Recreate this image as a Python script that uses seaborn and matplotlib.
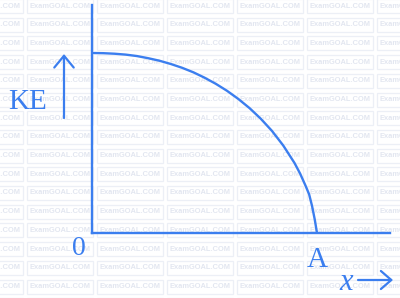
import matplotlib
matplotlib.use("Agg")
import matplotlib.pyplot as plt
from matplotlib.patches import Rectangle, FancyArrowPatch
import seaborn as sns
import pandas as pd

# Data: x as fraction of A, KE as fraction of its maximum
x_over_A = [0.0, 0.05, 0.1, 0.15, 0.2, 0.25, 0.3, 0.35, 0.4, 0.45, 0.5,
            0.55, 0.6, 0.65, 0.7, 0.75, 0.8, 0.85, 0.9, 0.925, 0.95, 0.965,
            0.978, 0.99, 0.996, 1.0]
ke_frac = [1.0, 0.999, 0.996, 0.991, 0.983, 0.971, 0.957, 0.939, 0.918,
           0.893, 0.863, 0.829, 0.790, 0.745, 0.694, 0.635, 0.567, 0.486,
           0.389, 0.330, 0.260, 0.215, 0.150, 0.075, 0.030, 0.0]
y_label = "KE"
x_label = "x"
origin_label = "0"
end_label = "A"
watermark = "ExamGOAL.COM"

sns.set_style("white")
plt.rcParams['font.family'] = ['Liberation Serif', 'DejaVu Serif']

W, H = 400, 298
BLUE = "#3b7eef"
fig = plt.figure(figsize=(W / 100, H / 100), dpi=100)
fig.patch.set_facecolor("white")


def fx(px):
    return px / W


def fy(py):
    return 1 - py / H


# Background watermark layer (pixel coordinates, top-left origin)
bg = fig.add_axes([0, 0, 1, 1], zorder=0)
bg.set_xlim(0, W)
bg.set_ylim(H, 0)
bg.axis("off")
for r in range(17):
    yy = 6 + 18.7 * r
    for c in range(-1, 6):
        xx = 60 + 70 * c
        bg.add_patch(Rectangle((xx - 33, yy - 7), 66, 14, fc="none",
                               ec="#eceff6", lw=0.9))
        bg.text(xx, yy, watermark, ha="center", va="center",
                fontsize=5.4, family="Liberation Sans", fontweight="bold",
                color="#e2e6f0")

# Axes: origin at px (92,233), x=1 at px 317, y=1 at py 53
x0, y0 = 92, 233
sx, sy = 225, 180
right, top = 390, 5
ax = fig.add_axes([fx(x0), fy(y0), (right - x0) / W, (y0 - top) / H],
                  zorder=1)
ax.set_facecolor("none")
ax.set_xlim(0, (right - x0) / sx)
ax.set_ylim(0, (y0 - top) / sy)

df = pd.DataFrame({"x": x_over_A, "ke": ke_frac})
sns.lineplot(data=df, x="x", y="ke", ax=ax, color=BLUE, linewidth=1.7,
             sort=False, estimator=None)

for s in ["top", "right"]:
    ax.spines[s].set_visible(False)
for s in ["left", "bottom"]:
    ax.spines[s].set_color(BLUE)
    ax.spines[s].set_linewidth(1.7)
ax.set_xticks([])
ax.set_yticks([])
ax.set_xlabel("")
ax.set_ylabel("")

# Labels
fig.text(fx(28), fy(109), y_label, ha="center", va="baseline", fontsize=21,
         color=BLUE)
fig.text(fx(79), fy(255), origin_label, ha="center", va="baseline",
         fontsize=20, color=BLUE)
fig.text(fx(317), fy(267), end_label, ha="center", va="baseline",
         fontsize=21, color=BLUE)
fig.text(fx(346), fy(290), x_label, ha="center", va="baseline", fontsize=22,
         color=BLUE, style="italic")

# Arrows
fig.add_artist(FancyArrowPatch(
    (fx(64), fy(118)), (fx(64), fy(54)), transform=fig.transFigure,
    arrowstyle="->,head_length=0.85,head_width=0.7", mutation_scale=10,
    color=BLUE, lw=1.6, shrinkA=0, shrinkB=0))
fig.add_artist(FancyArrowPatch(
    (fx(358), fy(280)), (fx(393), fy(280)), transform=fig.transFigure,
    arrowstyle="->,head_length=0.75,head_width=0.65", mutation_scale=10,
    color=BLUE, lw=1.6, shrinkA=0, shrinkB=0))

fig.savefig("out.png", dpi=100, facecolor="white")
